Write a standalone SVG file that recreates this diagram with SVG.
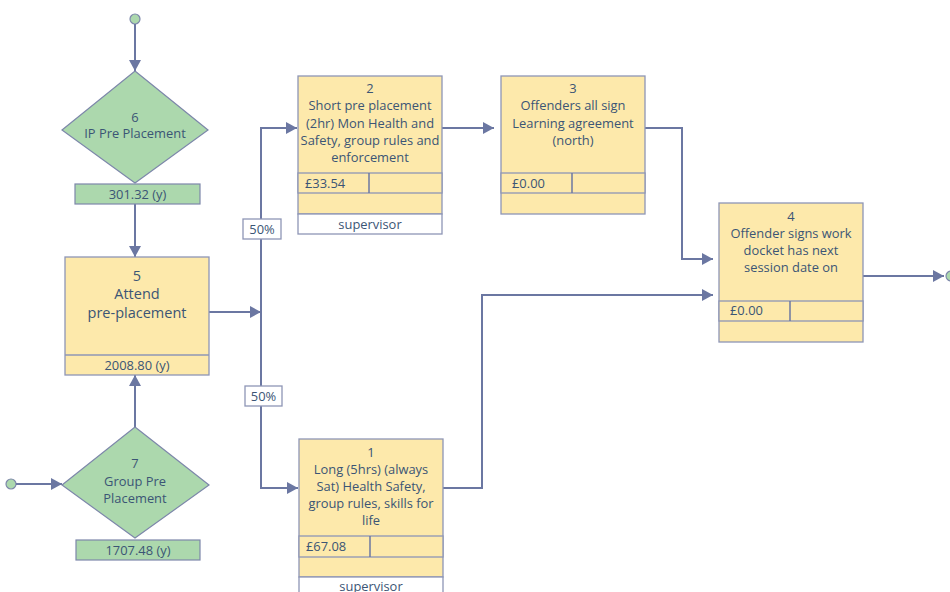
<svg xmlns="http://www.w3.org/2000/svg" width="950" height="592" viewBox="0 0 950 592">
<style>
text{font-family:"Open Sans","Liberation Sans",sans-serif;font-size:12.9px;fill:#3b5575;text-anchor:middle}
.big{font-size:14.5px}
.l{text-anchor:start}
.dia{fill:#acd8ad;stroke:#7d87aa;stroke-width:1.2}
.box{fill:#fde9ab;stroke:#8e96b6;stroke-width:1.3}
.wbox{fill:#ffffff;stroke:#8e96b6;stroke-width:1.3}
.conn{fill:none;stroke:#6b77a2;stroke-width:2}
.arr{marker-end:url(#ah)}
.dot{fill:#acd8ad;stroke:#7d87aa;stroke-width:1.2}
</style>
<defs>
<marker id="ah" markerUnits="userSpaceOnUse" markerWidth="12" markerHeight="12" refX="11" refY="6" orient="auto">
<path d="M0,0 L11,6 L0,12 z" fill="#6b77a2"/>
</marker>
</defs>
<g id="connectors">
<circle class="dot" cx="135" cy="19" r="5"/>
<path class="conn arr" d="M135,24 L135,71"/>
<path class="conn arr" d="M135,204 L135,257"/>
<path class="conn arr" d="M135,427 L135,375"/>
<circle class="dot" cx="11" cy="484" r="5"/>
<path class="conn arr" d="M16,484 L62,484"/>
<path class="conn arr" d="M209,312 L261,312"/>
<path class="conn arr" d="M261,312 L261,128 L297,128"/>
<path class="conn arr" d="M261,312 L261,488 L298,488"/>
<path class="conn arr" d="M442,128 L494,128"/>
<path class="conn arr" d="M645,128 L682,128 L682,259 L713,259"/>
<path class="conn arr" d="M443,488 L482,488 L482,295 L713,295"/>
<path class="conn arr" d="M863,276 L944,276"/>
<circle class="dot" cx="951" cy="276" r="5"/>
<rect class="wbox" x="243" y="219" width="38" height="20"/>
<text x="262" y="233.5">50%</text>
<rect class="wbox" x="245" y="386" width="37" height="20"/>
<text x="263.5" y="400.5">50%</text>
</g>
<g id="node6">
<polygon class="dia" points="135,71 208,130 135,183 62,130"/>
<text x="135" y="121.5">6</text>
<text x="135" y="137.5">IP Pre Placement</text>
<rect class="dia" x="75" y="184" width="125" height="20"/>
<text x="137.5" y="198.5">301.32 (y)</text>
</g>
<g id="node7">
<polygon class="dia" points="135,427 209,485 135,538 62,485"/>
<text x="135" y="467.5">7</text>
<text x="135" y="485.5">Group Pre</text>
<text x="135" y="502.5">Placement</text>
<rect class="dia" x="76" y="540" width="124" height="20"/>
<text x="138" y="554.5">1707.48 (y)</text>
</g>
<g id="node5">
<rect class="box" x="65" y="257" width="144" height="118"/>
<line x1="65" y1="355" x2="209" y2="355" stroke="#8e96b6" stroke-width="1.3"/>
<text class="big" x="137" y="281">5</text>
<text class="big" x="137" y="299">Attend</text>
<text class="big" x="137" y="318">pre-placement</text>
<text x="137" y="369.5">2008.80 (y)</text>
</g>
<g id="node2">
<rect class="box" x="298" y="76" width="144" height="138"/>
<rect class="box" x="298" y="173" width="144" height="20"/>
<line x1="369" y1="173" x2="369" y2="193" stroke="#6b77a2" stroke-width="1.5"/>
<rect class="wbox" x="298" y="214" width="144" height="20"/>
<text x="370" y="92.5">2</text>
<text x="370" y="109.5">Short pre placement</text>
<text x="370" y="127.5">(2hr) Mon Health and</text>
<text x="370" y="144.5">Safety, group rules and</text>
<text x="370" y="161.5">enforcement</text>
<text class="l" x="305" y="187.5">£33.54</text>
<text x="370" y="228.5">supervisor</text>
</g>
<g id="node3">
<rect class="box" x="501" y="76" width="144" height="138"/>
<rect class="box" x="501" y="173" width="144" height="20"/>
<line x1="572" y1="173" x2="572" y2="193" stroke="#6b77a2" stroke-width="1.5"/>
<text x="573" y="92.5">3</text>
<text x="573" y="109.5">Offenders all sign</text>
<text x="573" y="127.5">Learning agreement</text>
<text x="573" y="144.5">(north)</text>
<text class="l" x="512" y="187.5">£0.00</text>
</g>
<g id="node4">
<rect class="box" x="719" y="203" width="144" height="139"/>
<rect class="box" x="719" y="301" width="144" height="20"/>
<line x1="790" y1="301" x2="790" y2="321" stroke="#6b77a2" stroke-width="1.5"/>
<text x="791" y="220.5">4</text>
<text x="791" y="237.5">Offender signs work</text>
<text x="791" y="255">docket has next</text>
<text x="791" y="272">session date on</text>
<text class="l" x="730" y="315">£0.00</text>
</g>
<g id="node1">
<rect class="box" x="299" y="439" width="144" height="138"/>
<rect class="box" x="299" y="536" width="144" height="21"/>
<line x1="370" y1="536" x2="370" y2="557" stroke="#6b77a2" stroke-width="1.5"/>
<rect class="wbox" x="299" y="577" width="144" height="20"/>
<text x="371" y="456.5">1</text>
<text x="371" y="473.5">Long (5hrs) (always</text>
<text x="371" y="490.5">Sat) Health Safety,</text>
<text x="371" y="507.5">group rules, skills for</text>
<text x="371" y="524.5">life</text>
<text class="l" x="306" y="550.5">£67.08</text>
<text x="371" y="591">supervisor</text>
</g>
</svg>
